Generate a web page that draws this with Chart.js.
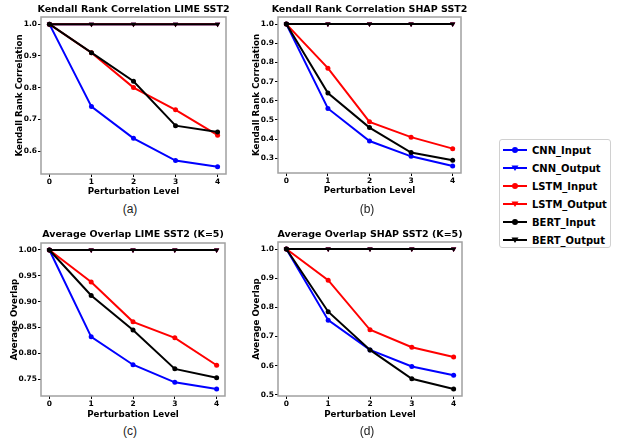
<!DOCTYPE html>
<html>
<head>
<meta charset="utf-8">
<script src="https://cdn.jsdelivr.net/npm/chart.js@4"></script>
<style>
  html, body { margin: 0; padding: 0; background: #fff; }
  #wrap { position: relative; width: 619px; height: 443px; overflow: hidden; font-family: "DejaVu Sans", sans-serif; }
  .plot { position: absolute; }
  .tag { position: absolute; font-family: "Liberation Sans", Arial, sans-serif; font-size: 12px; color: #222; transform: translate(-50%, -50%); }
  #legend { position: absolute; left: 499px; top: 139px; width: 112px; height: 109px; border: 1px solid #d0d0d0; border-radius: 3px; box-sizing: border-box; padding-top: 1px; }
  .item { height: 18px; display: flex; align-items: center; font: bold 10px "DejaVu Sans", sans-serif; color: #000; }
  .item svg { margin: 0 5px 0 3px; }
</style>
</head>
<body>
<div id="wrap">
  <canvas id="chartA" class="plot"></canvas>
  <canvas id="chartB" class="plot"></canvas>
  <canvas id="chartC" class="plot"></canvas>
  <canvas id="chartD" class="plot"></canvas>
  <div class="tag" style="left:130px;top:209px">(a)</div>
  <div class="tag" style="left:367px;top:209px">(b)</div>
  <div class="tag" style="left:130px;top:431px">(c)</div>
  <div class="tag" style="left:367px;top:431px">(d)</div>
  <div id="legend"></div>
</div>
<script>
// ===== DADOS =====
const levels = [0, 1, 2, 3, 4];
const seriesNames = ['CNN_Input', 'CNN_Output', 'LSTM_Input', 'LSTM_Output', 'BERT_Input', 'BERT_Output'];

// (a) Kendall LIME
const kendallLimeCnnIn = [1.0, 0.74, 0.64, 0.57, 0.55];
const kendallLimeLstmIn = [1.0, 0.91, 0.80, 0.73, 0.65];
const kendallLimeBertIn = [1.0, 0.91, 0.82, 0.68, 0.66];
// (b) Kendall SHAP
const kendallShapCnnIn = [1.0, 0.56, 0.39, 0.31, 0.26];
const kendallShapLstmIn = [1.0, 0.77, 0.49, 0.41, 0.35];
const kendallShapBertIn = [1.0, 0.64, 0.46, 0.33, 0.29];
// (c) Overlap LIME
const overlapLimeCnnIn = [1.0, 0.832, 0.778, 0.744, 0.731];
const overlapLimeLstmIn = [1.0, 0.938, 0.861, 0.830, 0.777];
const overlapLimeBertIn = [1.0, 0.912, 0.845, 0.770, 0.753];
// (d) Overlap SHAP
const overlapShapCnnIn = [1.0, 0.756, 0.654, 0.597, 0.567];
const overlapShapLstmIn = [1.0, 0.893, 0.723, 0.663, 0.630];
const overlapShapBertIn = [1.0, 0.785, 0.654, 0.555, 0.520];
// output perturbation keeps everything identical
const outputSame = [1.0, 1.0, 1.0, 1.0, 1.0];

const xTicks = [0, 1, 2, 3, 4];
const yTicksA = [0.6, 0.7, 0.8, 0.9, 1.0];
const yTicksB = [0.3, 0.4, 0.5, 0.6, 0.7, 0.8, 0.9, 1.0];
const yTicksC = [0.75, 0.80, 0.85, 0.90, 0.95, 1.00];
const yTicksD = [0.5, 0.6, 0.7, 0.8, 0.9, 1.0];

const colors = ['#0000ff', '#0000ff', '#ff0000', '#ff0000', '#000000', '#000000'];
const markers = ['circle', 'triangle', 'circle', 'triangle', 'circle', 'triangle'];

// ===== FRAME PLUGIN =====
const framePlugin = {
  id: 'frame',
  afterDraw(chart) {
    const a = chart.chartArea;
    const ctx = chart.ctx;
    ctx.save();
    ctx.strokeStyle = '#a0a0a0';
    ctx.lineWidth = 1.5;
    ctx.strokeRect(a.left, a.top, a.right - a.left, a.bottom - a.top);
    ctx.restore();
  }
};

function makePlot(id, box, title, yLabel, series, yRange, yTicks, dec) {
  const canvas = document.getElementById(id);
  const axisW = box.axisW;
  const width = (box.R - box.L) + 2 * axisW;
  const height = box.B + 26 - box.top;
  canvas.style.left = (box.L - axisW) + 'px';
  canvas.style.top = box.top + 'px';
  canvas.style.width = width + 'px';
  canvas.style.height = height + 'px';
  canvas.width = width;
  canvas.height = height;

  const datasets = series.map((vals, i) => ({
    label: seriesNames[i],
    data: levels.map((lv, j) => ({ x: lv, y: vals[j] })),
    borderColor: colors[i],
    backgroundColor: colors[i],
    borderWidth: 2,
    pointStyle: markers[i],
    pointRotation: markers[i] === 'triangle' ? 180 : 0,
    pointRadius: markers[i] === 'triangle' ? 3 : 2.5,
    pointBorderWidth: 0,
    tension: 0,
    order: series.length - i
  }));

  new Chart(canvas, {
    type: 'line',
    data: { datasets },
    plugins: [framePlugin],
    options: {
      responsive: false,
      animation: false,
      events: [],
      layout: { padding: 0 },
      plugins: {
        legend: { display: false },
        tooltip: { enabled: false },
        title: {
          display: true,
          text: title,
          color: '#000',
          font: { family: 'DejaVu Sans', size: 9.5, weight: 'bold', lineHeight: 1.2 },
          padding: { top: box.titleTop, bottom: box.T - box.top - box.titleTop - 11.4 }
        }
      },
      scales: {
        x: {
          type: 'linear',
          min: -0.2,
          max: 4.2,
          afterBuildTicks: (s) => { s.ticks = xTicks.map(v => ({ value: v })); },
          afterFit: (s) => { s.height = 26; },
          grid: { drawOnChartArea: false, drawTicks: true, tickLength: 3, color: '#000' },
          border: { display: false },
          ticks: { color: '#000', padding: 1, font: { family: 'DejaVu Sans', size: 7.5, weight: 'bold' }, maxRotation: 0 },
          title: { display: true, text: 'Perturbation Level', color: '#000',
            font: { family: 'DejaVu Sans', size: 8.7, weight: 'bold', lineHeight: 1.2 },
            padding: { top: 0, bottom: box.xTitleBottom } }
        },
        y: {
          min: yRange[0],
          max: yRange[1],
          afterBuildTicks: (s) => { s.ticks = yTicks.map(v => ({ value: v })); },
          afterFit: (s) => { s.width = axisW; },
          grid: { drawOnChartArea: false, drawTicks: true, tickLength: 3, color: '#000' },
          border: { display: false },
          ticks: { color: '#000', padding: 1, font: { family: 'DejaVu Sans', size: 7.5, weight: 'bold' },
            callback: (v) => Number(v).toFixed(dec) },
          title: { display: true, text: yLabel, color: '#000',
            font: { family: 'DejaVu Sans', size: 8.7, weight: 'bold', lineHeight: 1.2 },
            padding: { top: box.yTitleOff, bottom: 0 } }
        },
        // empty right axis so the title centres over the axes box
        yPad: {
          position: 'right',
          min: 0,
          max: 1,
          afterFit: (s) => { s.width = axisW; },
          grid: { display: false },
          border: { display: false },
          ticks: { display: false }
        }
      }
    }
  });
}

makePlot('chartA', { L: 41, R: 226, T: 17, B: 174, top: 0, axisW: 41, titleTop: 4, xTitleBottom: 3.5, yTitleOff: 14.5 },
  'Kendall Rank Correlation LIME SST2', 'Kendall Rank Correlation',
  [kendallLimeCnnIn, outputSame, kendallLimeLstmIn, outputSame, kendallLimeBertIn, outputSame],
  [0.5275, 1.0225], yTicksA, 1);

makePlot('chartB', { L: 278, R: 461, T: 17, B: 173, top: 0, axisW: 37, titleTop: 4, xTitleBottom: 3.5, yTitleOff: 10.3 },
  'Kendall Rank Correlation SHAP SST2', 'Kendall Rank Correlation',
  [kendallShapCnnIn, outputSame, kendallShapLstmIn, outputSame, kendallShapBertIn, outputSame],
  [0.223, 1.037], yTicksB, 1);

makePlot('chartC', { L: 41, R: 225, T: 243, B: 396, top: 225, axisW: 41, titleTop: 3.5, xTitleBottom: 2.5, yTitleOff: 9.5 },
  'Average Overlap LIME SST2 (K=5)', 'Average Overlap',
  [overlapLimeCnnIn, outputSame, overlapLimeLstmIn, outputSame, overlapLimeBertIn, outputSame],
  [0.7175, 1.0135], yTicksC, 2);

makePlot('chartD', { L: 278, R: 462, T: 242, B: 396, top: 225, axisW: 37, titleTop: 3.5, xTitleBottom: 2.5, yTitleOff: 10.3 },
  'Average Overlap SHAP SST2 (K=5)', 'Average Overlap',
  [overlapShapCnnIn, outputSame, overlapShapLstmIn, outputSame, overlapShapBertIn, outputSame],
  [0.496, 1.024], yTicksD, 1);

// ===== LEGENDA =====
const legend = document.getElementById('legend');
seriesNames.forEach((name, i) => {
  const marker = markers[i] === 'circle'
    ? `<circle cx="12" cy="5" r="3" fill="${colors[i]}"/>`
    : `<polygon points="8.5,2.5 15.5,2.5 12,8" fill="${colors[i]}"/>`;
  const row = document.createElement('div');
  row.className = 'item';
  row.innerHTML = `<svg width="24" height="10"><line x1="0" y1="5" x2="24" y2="5" stroke="${colors[i]}" stroke-width="2"/>${marker}</svg><span>${name}</span>`;
  legend.appendChild(row);
});
</script>
</body>
</html>
